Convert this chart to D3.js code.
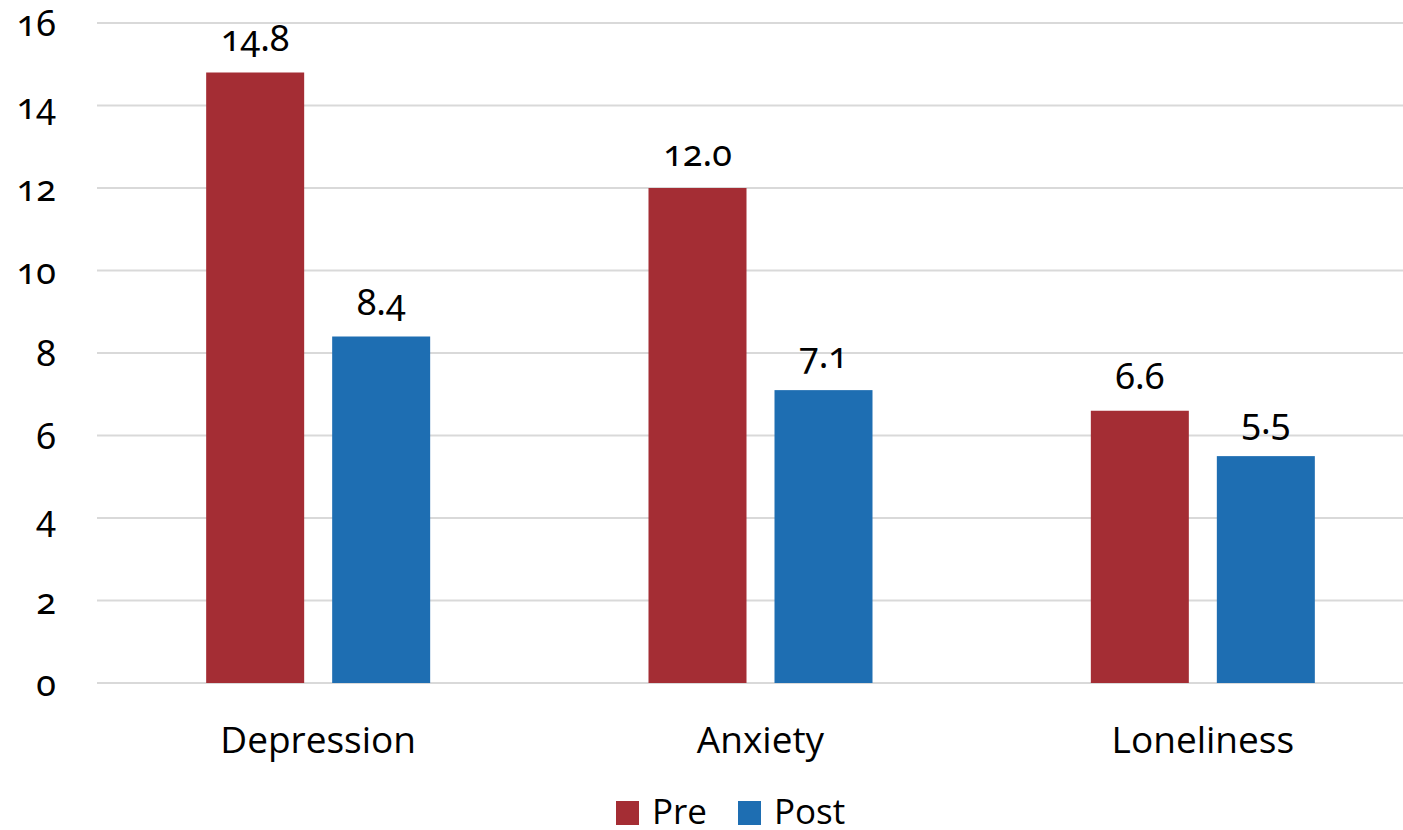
<!DOCTYPE html>
<html>
<head>
<meta charset="utf-8">
<script src="https://cdn.jsdelivr.net/npm/d3@7"></script>
<style>
  html, body { margin: 0; padding: 0; background: #fff; }
  svg { display: block; }
  .num { font-family: "Noto Sans", "Open Sans", sans-serif; font-variant-numeric: oldstyle-nums; font-feature-settings: "onum" 1; }
  .lbl { font-family: "Open Sans", "Noto Sans", sans-serif; }
</style>
</head>
<body>
<script>
// Mean scores before and after, by outcome measure
const categories = ["Depression", "Anxiety", "Loneliness"];
const seriesNames = ["Pre", "Post"];
const preValues = [14.8, 12.0, 6.6];
const postValues = [8.4, 7.1, 5.5];
const yTicks = [0, 2, 4, 6, 8, 10, 12, 14, 16];
const colors = ["#A42D34", "#1E6EB2"];

const W = 1403, H = 830;
const plot = { left: 97, right: 1424, top: 23, bottom: 683 };

const svg = d3.select("body").append("svg")
  .attr("width", W).attr("height", H);

const y = d3.scaleLinear().domain([0, 16]).range([plot.bottom, plot.top]);
const x0 = d3.scaleBand().domain(categories).range([plot.left, plot.right]).paddingInner(0).paddingOuter(0);
const groupWidth = 224;
const x1 = d3.scaleBand().domain(seriesNames).range([0, groupWidth]).paddingInner(28 / 126).paddingOuter(0);

// Horizontal gridlines
svg.append("g")
  .selectAll("line").data(yTicks).join("line")
  .attr("x1", plot.left).attr("x2", plot.right)
  .attr("y1", d => y(d)).attr("y2", d => y(d))
  .attr("stroke", "#d9d9d9").attr("stroke-width", 2);

// Y axis labels
const yAxis = d3.axisLeft(y).tickValues(yTicks).tickSize(0).tickPadding(0).tickFormat(d3.format("d"));
const yg = svg.append("g").attr("transform", `translate(56,0)`).call(yAxis);
yg.select(".domain").remove();
yg.selectAll("text")
  .attr("class", "num")
  .attr("font-size", 36)
  .attr("fill", "#000")
  .attr("dy", "0.36em");

// Bars
const rows = categories.map((c, i) => ({ cat: c, values: [preValues[i], postValues[i]] }));
const groups = svg.append("g").selectAll("g").data(rows).join("g")
  .attr("transform", d => `translate(${x0(d.cat) + (x0.bandwidth() - groupWidth) / 2},0)`);

groups.selectAll("rect")
  .data(d => d.values.map((v, j) => ({ s: seriesNames[j], v, j })))
  .join("rect")
  .attr("x", d => x1(d.s))
  .attr("width", x1.bandwidth())
  .attr("y", d => y(d.v))
  .attr("height", d => y(0) - y(d.v))
  .attr("fill", d => colors[d.j]);

// Value labels
groups.selectAll("text")
  .data(d => d.values.map((v, j) => ({ s: seriesNames[j], v, j })))
  .join("text")
  .attr("class", "num")
  .attr("x", d => x1(d.s) + x1.bandwidth() / 2)
  .attr("y", d => y(d.v) - 22)
  .attr("text-anchor", "middle")
  .attr("font-size", 36)
  .attr("fill", "#000")
  .text(d => d3.format(".1f")(d.v));

// Category axis labels
const xAxis = d3.axisBottom(x0).tickSize(0).tickPadding(0);
const xg = svg.append("g").attr("transform", `translate(0,${plot.bottom})`).call(xAxis);
xg.select(".domain").remove();
xg.selectAll("text")
  .attr("class", "lbl")
  .attr("font-size", 37)
  .attr("fill", "#000")
  .attr("dy", 0)
  .attr("y", 70);

// Legend
const legendItems = [
  { name: "Pre", color: colors[0], x: 616 },
  { name: "Post", color: colors[1], x: 738 }
];
const lg = svg.append("g").selectAll("g").data(legendItems).join("g")
  .attr("transform", d => `translate(${d.x},801)`);
lg.append("rect").attr("width", 23).attr("height", 24).attr("fill", d => d.color);
lg.append("text")
  .attr("class", "lbl")
  .attr("x", 36).attr("y", 23)
  .attr("font-size", 35)
  .attr("fill", "#000")
  .text(d => d.name);
</script>
</body>
</html>
